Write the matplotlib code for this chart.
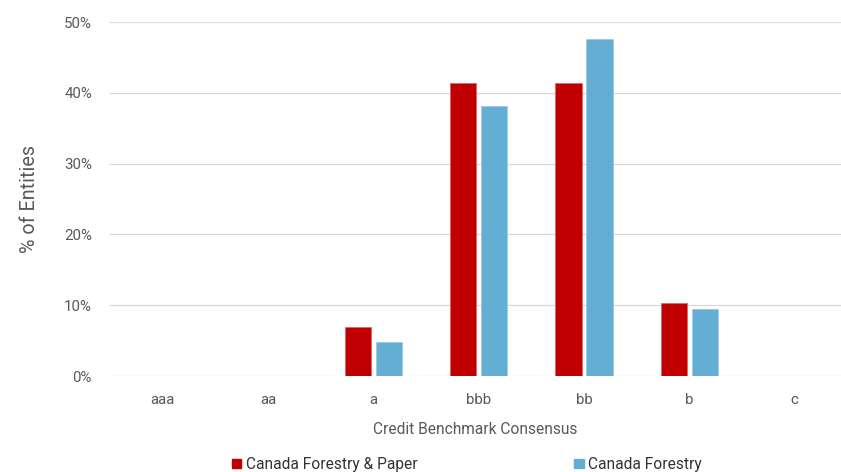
import numpy as np
import matplotlib.pyplot as plt
from matplotlib.patches import Patch

plt.rcParams['font.family'] = ['Roboto', 'DejaVu Sans']

categories = ["aaa", "aa", "a", "bbb", "bb", "b", "c"]
forestry_paper = [0, 0, 6.9, 41.4, 41.4, 10.3, 0]
forestry = [0, 0, 4.8, 38.1, 47.6, 9.5, 0]

red = "#C00000"
blue = "#64AED4"
grey = "#595959"

fig = plt.figure(figsize=(8.41, 4.72), dpi=100)
ax = fig.add_axes([110/841, 1 - 376/472, 1 - 110/841, (376 - 22)/472])

x = np.arange(len(categories))
w = 0.25
off = 0.147
ax.bar(x - off, forestry_paper, w, color=red, edgecolor="#E06666", linewidth=0.6)
ax.bar(x + off, forestry, w, color=blue, edgecolor="#9ACBE5", linewidth=0.6)

ax.set_ylim(0, 50)
ax.set_xlim(-0.5, 6.44)
ax.set_yticks(range(0, 51, 10))
ax.set_yticklabels(["%d%%" % v for v in range(0, 51, 10)])
ax.set_xticks(x)
ax.set_xticklabels(categories)
ax.grid(axis="y", color="#D9D9D9", linewidth=0.9)
ax.set_axisbelow(True)
for s in ax.spines.values():
    s.set_visible(False)
ax.tick_params(axis="both", length=0, colors=grey, labelsize=10.8)
ax.tick_params(axis="y", pad=13)
ax.tick_params(axis="x", pad=12)

ax.set_ylabel("% of Entities", fontsize=14.2, color=grey, labelpad=18)
ax.set_xlabel("Credit Benchmark Consensus", fontsize=11.2, color=grey, labelpad=11)

handles = [Patch(color=red, label="Canada Forestry & Paper"),
           Patch(color=blue, label="Canada Forestry")]
fig.legend(handles=handles, loc="center", bbox_to_anchor=(0.555, 0.016), ncol=2,
           frameon=False, fontsize=11.2, handlelength=0.6, handleheight=0.6,
           handletextpad=0.3, columnspacing=10.1, labelcolor="#333333")

fig.savefig("out.png", dpi=100)
